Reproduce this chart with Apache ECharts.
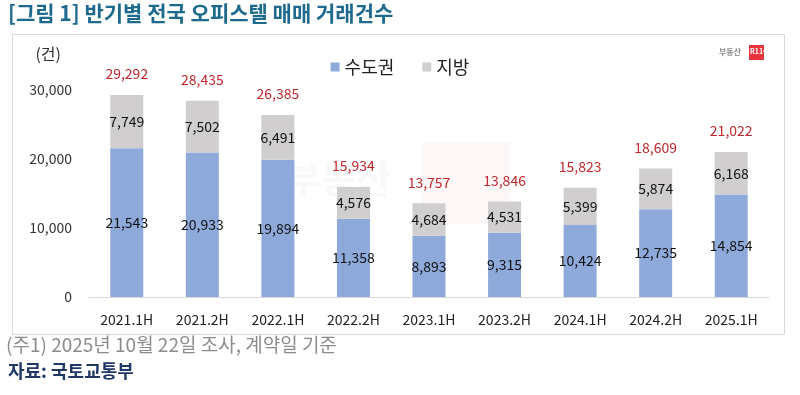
<!DOCTYPE html>
<html><head><meta charset="utf-8">
<script src="https://cdn.jsdelivr.net/npm/echarts@6/dist/echarts.min.js"></script>
<style>html,body{margin:0;padding:0;background:#fff}#c{width:800px;height:395px}</style>
</head><body><div id="c"></div>
<script>
const categories = ['2021.1H','2021.2H','2022.1H','2022.2H','2023.1H','2023.2H','2024.1H','2024.2H','2025.1H'];
const capital = [21543,20933,19894,11358,8893,9315,10424,12735,14854];
const regional = [7749,7502,6491,4576,4684,4531,5399,5874,6168];
const totals = [29292,28435,26385,15934,13757,13846,15823,18609,21022];
const yTicks = [0,10000,20000,30000];

const F = '"Noto Sans CJK KR","Noto Sans",sans-serif';
const fmt = v => v.toLocaleString('en-US');
const chart = echarts.init(document.getElementById('c'), null, {renderer:'canvas'});
chart.setOption({
  animation:false,
  textStyle:{fontFamily:F},
  graphic:[
    {type:'rect',shape:{x:12.5,y:34.5,width:772,height:300},style:{fill:'none',stroke:'#d9d9d9',lineWidth:1},z:-1},
    {type:'text',left:8,top:3,style:{text:'[그림 1] 반기별 전국 오피스텔 매매 거래건수',font:'bold 21px '+F,fill:'#1d6a8e'}},
    {type:'text',left:6,top:335,style:{text:'(주1) 2025년 10월 22일 조사, 계약일 기준',font:'19px '+F,fill:'#8c8c8c'}},
    {type:'text',left:8,top:362,style:{text:'자료: 국토교통부',font:'bold 18px '+F,fill:'#1f3864'}},
    {type:'text',left:719,top:48,style:{text:'부동산',font:'bold 8px '+F,fill:'#888'}},
    {type:'rect',shape:{x:749,y:45,width:15,height:15},style:{fill:'#e8343c'}},
    {type:'text',left:750,top:48,style:{text:'R114',font:'bold 7px '+F,fill:'#fff'}},
    {type:'rect',shape:{x:422,y:142,width:88,height:82},style:{fill:'rgba(232,52,60,0.04)'},z:-2},
    {type:'text',left:286,top:160,style:{text:'부동산',font:'bold 38px '+F,fill:'rgba(225,225,225,0.2)'},z:-2}
  ],
  legend:{data:['수도권','지방'],top:53,left:'center',itemWidth:9,itemHeight:9,itemGap:28,icon:'rect',
    textStyle:{fontSize:18,color:'#222',fontFamily:F}},
  grid:{left:89,right:31,top:90,bottom:98},
  xAxis:{type:'category',data:categories,
    axisLine:{lineStyle:{color:'#d9d9d9'}},axisTick:{show:false},
    axisLabel:{fontSize:14,color:'#222',margin:16,fontFamily:F}},
  yAxis:{type:'value',min:0,max:30000,interval:10000,
    name:'(건)',nameLocation:'end',nameGap:28,nameTextStyle:{fontSize:16,color:'#333',align:'right',padding:[0,28,0,0]},
    axisLine:{show:false},axisTick:{show:false},splitLine:{show:false},
    axisLabel:{fontSize:14,color:'#333',margin:17,formatter:v=>yTicks.includes(v)?fmt(v):''}},
  series:[
    {name:'수도권',type:'bar',stack:'a',data:capital,barWidth:33,itemStyle:{color:'#8eaadb'},
      label:{show:true,position:'inside',color:'#111',fontSize:14,formatter:p=>fmt(p.value)}},
    {name:'지방',type:'bar',stack:'a',data:regional,itemStyle:{color:'#d0cece'},
      label:{show:true,position:'inside',color:'#111',fontSize:14,formatter:p=>fmt(p.value)}},
    {name:'합계',type:'bar',stack:'a',data:totals.map(()=>0),itemStyle:{color:'transparent'},
      label:{show:true,position:'top',distance:14,color:'#c0282d',fontSize:14,
        formatter:p=>fmt(totals[p.dataIndex])}}
  ]
});
</script></body></html>
